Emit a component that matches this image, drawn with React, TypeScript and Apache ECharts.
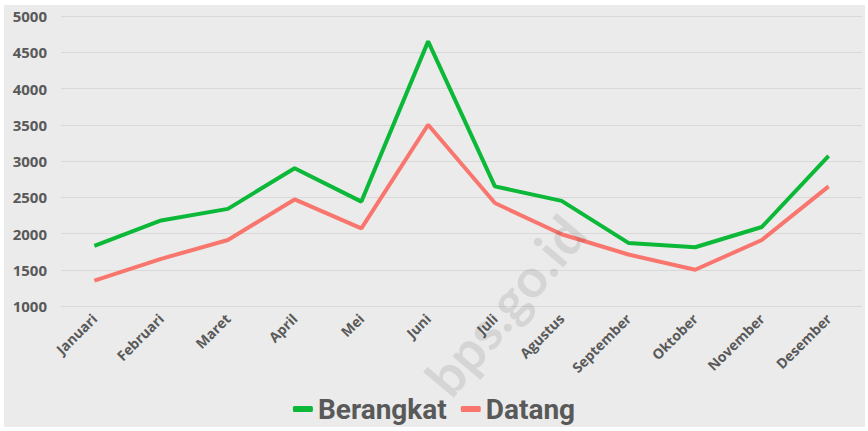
import React, { useEffect, useRef } from "react";
import * as echarts from "echarts";

const months = ["Januari", "Februari", "Maret", "April", "Mei", "Juni", "Juli", "Agustus", "September", "Oktober", "November", "Desember"];
const berangkat = [1830, 2180, 2340, 2900, 2440, 4650, 2650, 2450, 1870, 1810, 2090, 3070];
const datang = [1350, 1650, 1910, 2470, 2070, 3500, 2420, 1990, 1710, 1500, 1910, 2650];
const yTicks = { min: 1000, max: 5000, interval: 500 };

export default function App() {
  const ref = useRef<HTMLDivElement>(null);
  useEffect(() => {
    document.body.style.margin = "0";
    const chart = echarts.init(ref.current!, null, { renderer: "svg" });
    const font = "'Open Sans', 'DejaVu Sans', sans-serif";
    chart.setOption({
      animation: false,
      backgroundColor: "#ffffff",
      graphic: [
        { type: "rect", z: -10, shape: { x: 4, y: 5, width: 861, height: 422 }, style: { fill: "#ebebeb" } },
        {
          type: "text", z: 100, x: 505, y: 305, rotation: (50 * Math.PI) / 180,
          style: { text: "bps.go.id", font: "bold 54px Lato, sans-serif", fill: "rgba(0,0,0,0.09)", align: "center", verticalAlign: "middle" },
        },
      ],
      grid: { left: 61, right: 6, top: 16, bottom: 125 },
      legend: {
        bottom: 3, left: "center",
        itemWidth: 20, itemHeight: 6, itemGap: 14,
        icon: "roundRect",
        textStyle: { fontSize: 28, fontWeight: "bold", color: "#595959", fontFamily: "Roboto, sans-serif" },
        data: ["Berangkat", "Datang"],
      },
      xAxis: {
        type: "category",
        data: months,
        boundaryGap: true,
        axisLine: { show: false },
        axisTick: { show: false },
        axisLabel: { rotate: 45, margin: 10, color: "#595959", fontSize: 14, fontWeight: "bold", fontFamily: font, interval: 0 },
      },
      yAxis: {
        type: "value",
        min: yTicks.min, max: yTicks.max, interval: yTicks.interval,
        axisLine: { show: false },
        axisTick: { show: false },
        axisLabel: { color: "#595959", fontSize: 15, fontWeight: "bold", fontFamily: font, margin: 14, formatter: (v: number) => String(v) },
        splitLine: { lineStyle: { color: "#d9d9d9", width: 1 } },
      },
      series: [
        { name: "Berangkat", type: "line", data: berangkat, symbol: "none", lineStyle: { color: "#0cb838", width: 4 }, itemStyle: { color: "#0cb838" } },
        { name: "Datang", type: "line", data: datang, symbol: "none", lineStyle: { color: "#f8766d", width: 4 }, itemStyle: { color: "#f8766d" } },
      ],
    });
    return () => chart.dispose();
  }, []);
  return <div ref={ref} style={{ width: 868, height: 431 }} />;
}
